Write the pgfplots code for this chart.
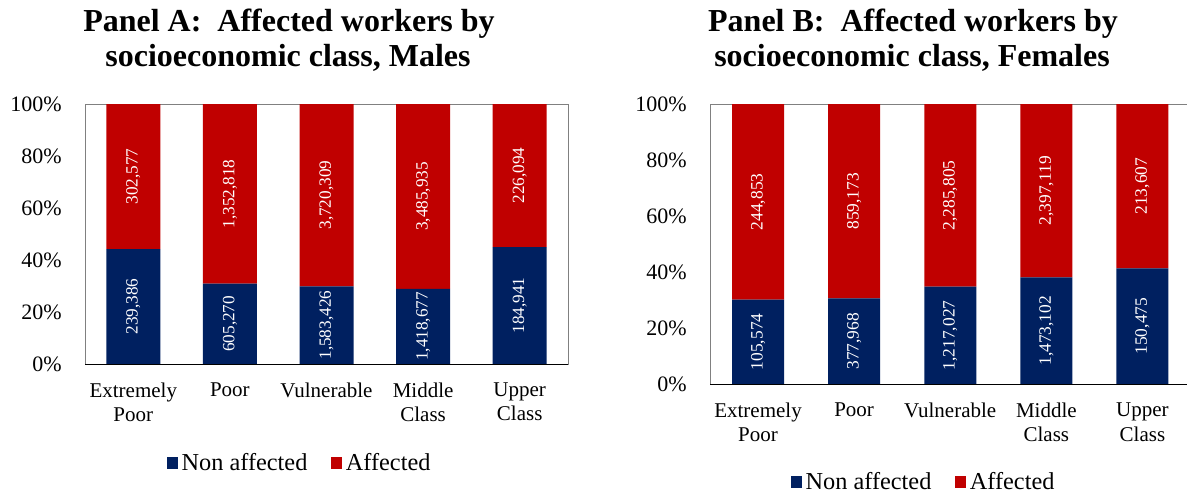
\documentclass[border=0pt]{standalone}
\usepackage{pgfplots}
\usepackage{pgfplotstable}
\pgfplotsset{compat=1.18}
\usepackage{fontspec}
\setmainfont{Liberation Serif}
\definecolor{navy}{HTML}{002060}
\definecolor{darkred}{HTML}{C00000}
\definecolor{framegray}{HTML}{808080}

\pgfplotstableread{
x non aff nonmid affmid nonlab afflab
0 44.17 55.83 22.09 72.09 239,386 302,577
1 30.91 69.09 15.46 65.46 605,270 1,352,818
2 29.85 70.15 14.93 64.93 1,583,426 3,720,309
3 28.93 71.07 14.46 64.46 1,418,677 3,485,935
4 44.99 55.01 22.50 72.50 184,941 226,094
}\dataA

\pgfplotstableread{
x non aff nonmid affmid nonlab afflab
0 30.13 69.87 15.06 65.06 105,574 244,853
1 30.55 69.45 15.28 65.28 377,968 859,173
2 34.74 65.26 17.37 67.37 1,217,027 2,285,805
3 38.06 61.94 19.03 69.03 1,473,102 2,397,119
4 41.33 58.67 20.67 70.67 150,475 213,607
}\dataB

\pgfplotsset{
  base/.style={
    scale only axis,
    xmin=-0.5, xmax=4.5,
    ymin=0, ymax=100,
  },
  panel/.style={
    base,
    ybar stacked,
    axis line style={draw=framegray, line width=0.9bp},
    major tick length=0pt,
    xtick={0,1,2,3,4},
    xticklabels={{Extremely\\Poor},Poor,Vulnerable,{Middle\\Class},{Upper\\Class}},
    ytick={0,20,40,60,80,100},
    yticklabels={0\%,20\%,40\%,60\%,80\%,100\%},
    yticklabel style={anchor=east, inner sep=0pt, xshift=-23bp, font=\fontsize{22bp}{26bp}\selectfont},
    legend columns=2,
    legend image code/.code={\fill[##1] (0bp,-5.75bp) rectangle (11.5bp,5.75bp);},
    after end axis/.code={\draw[black, line width=1bp] (rel axis cs:0,0) -- (rel axis cs:1,0);},
  },
  labels/.style={
    base, hide axis,
  },
}

\begin{document}
\begin{tikzpicture}
% Panel A
\begin{axis}[panel,
  anchor=south west, at={(85bp,-364bp)},
  width=483bp, height=260bp,
  bar width=54bp,
  xticklabel style={anchor=north, align=center, inner sep=0pt, yshift=-18.4bp, font=\fontsize{21bp}{24.5bp}\selectfont},
  legend style={at={(axis description cs:0.1687,-0.381)}, anchor=west, draw=none, fill=none, inner sep=0pt,
    font=\fontsize{24.3bp}{27bp}\selectfont,
    nodes={inner sep=3.5bp},
    /tikz/every even column/.append style={column sep=20bp}},
]
\addplot[fill=navy, draw=none] table[x=x, y=non] {\dataA};
\addplot[fill=darkred, draw=none] table[x=x, y=aff] {\dataA};
\legend{Non affected, Affected}
\end{axis}
\begin{axis}[labels,
  anchor=south west, at={(85bp,-364bp)},
  width=483bp, height=260bp,
  every node near coord/.append style={anchor=center, rotate=90, text=white, inner sep=0pt, font=\fontsize{17.2bp}{20bp}\selectfont},
]
\addplot[draw=none, mark=none, nodes near coords, point meta=explicit symbolic] table[x=x, y=nonmid, meta=nonlab] {\dataA};
\addplot[draw=none, mark=none, nodes near coords, point meta=explicit symbolic] table[x=x, y=affmid, meta=afflab] {\dataA};
\end{axis}

% Panel B
\begin{axis}[panel,
  anchor=south west, at={(710bp,-384bp)},
  width=480.5bp, height=280bp,
  bar width=52bp,
  xticklabel style={anchor=north, align=center, inner sep=0pt, yshift=-18.7bp, font=\fontsize{21bp}{24.5bp}\selectfont},
  legend style={at={(axis description cs:0.1675,-0.35)}, anchor=west, draw=none, fill=none, inner sep=0pt,
    font=\fontsize{24.3bp}{27bp}\selectfont,
    nodes={inner sep=3.5bp},
    /tikz/every even column/.append style={column sep=20bp}},
]
\addplot[fill=navy, draw=none] table[x=x, y=non] {\dataB};
\addplot[fill=darkred, draw=none] table[x=x, y=aff] {\dataB};
\legend{Non affected, Affected}
\end{axis}
\begin{axis}[labels,
  anchor=south west, at={(710bp,-384bp)},
  width=480.5bp, height=280bp,
  every node near coord/.append style={anchor=center, rotate=90, text=white, inner sep=0pt, font=\fontsize{17.4bp}{20bp}\selectfont},
]
\addplot[draw=none, mark=none, nodes near coords, point meta=explicit symbolic] table[x=x, y=nonmid, meta=nonlab] {\dataB};
\addplot[draw=none, mark=none, nodes near coords, point meta=explicit symbolic] table[x=x, y=affmid, meta=afflab] {\dataB};
\end{axis}

% Titles
\node[anchor=base, font=\bfseries\fontsize{32bp}{36bp}\selectfont, inner sep=0pt] at (289bp,-31.5bp) {Panel A:\ \ Affected workers by};
\node[anchor=base, font=\bfseries\fontsize{32bp}{36bp}\selectfont, inner sep=0pt] at (288bp,-66.5bp) {socioeconomic class, Males};
\node[anchor=base, font=\bfseries\fontsize{32bp}{36bp}\selectfont, inner sep=0pt] at (913bp,-31.5bp) {Panel B:\ \ Affected workers by};
\node[anchor=base, font=\bfseries\fontsize{32bp}{36bp}\selectfont, inner sep=0pt] at (912bp,-66.5bp) {socioeconomic class, Females};

\pgfresetboundingbox
\useasboundingbox (0,0) rectangle (1187bp,-496bp);
\end{tikzpicture}
\end{document}
